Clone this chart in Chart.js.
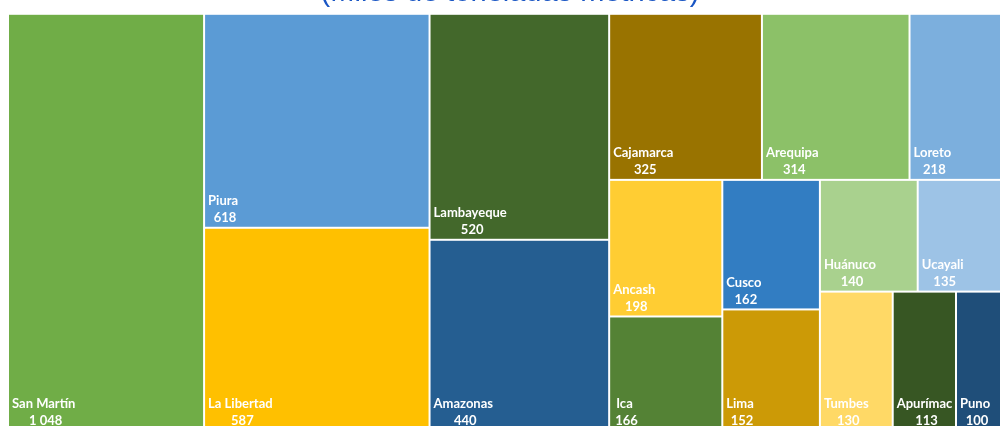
<!DOCTYPE html>
<html>
<head>
<meta charset="utf-8">
<script src="https://cdn.jsdelivr.net/npm/chart.js@4.4.1/dist/chart.umd.min.js"></script>
<style>
  html, body { margin: 0; padding: 0; background: #fff; overflow: hidden; width: 1000px; height: 426px; }
  #wrap { position: absolute; left: 0; top: -24px; width: 1020px; height: 455px; }
</style>
</head>
<body>
<div id="wrap"><canvas id="myChart"></canvas></div>
<script>
// data
const regiones = ['San Martín', 'Piura', 'La Libertad', 'Lambayeque', 'Amazonas', 'Cajamarca', 'Arequipa', 'Loreto',
    'Ancash', 'Ica', 'Cusco', 'Lima', 'Huánuco', 'Ucayali', 'Tumbes', 'Apurímac', 'Puno'];
const produccion = [1048, 618, 587, 520, 440, 325, 314, 218, 198, 166, 162, 152, 140, 135, 130, 113, 100];
const colores = ['#70AD47', '#5B9BD5', '#FFC000', '#43682B', '#255E91', '#997300', '#8CC168', '#7CAFDD',
    '#FFCD33', '#548235', '#327DC2', '#CC9A06', '#A9D18E', '#9DC3E6', '#FFD966', '#375623', '#1F4E79'];

// how the blocks are sliced (indices into the arrays above)
const bloques = { dir: 'h', kids: [
    0,
    { dir: 'v', kids: [1, 2] },
    { dir: 'v', kids: [3, 4] },
    { dir: 'v', kids: [
        { dir: 'h', kids: [5, 6, 7] },
        { dir: 'h', kids: [
            { dir: 'v', kids: [8, 9] },
            { dir: 'v', kids: [10, 11] },
            { dir: 'v', kids: [
                { dir: 'h', kids: [12, 13] },
                { dir: 'h', kids: [14, 15, 16] }
            ] }
        ] }
    ] }
] };

function total(node) {
    if (typeof node === 'number') return produccion[node];
    return node.kids.reduce((a, k) => a + total(k), 0);
}

// slice and dice in unit square
function layout(node, x0, y0, x1, y1, out) {
    if (typeof node === 'number') {
        out.push({ i: node, x0: x0, y0: y0, x1: x1, y1: y1 });
        return out;
    }
    const sum = total(node);
    let pos = node.dir === 'h' ? x0 : y0;
    node.kids.forEach(k => {
        const f = total(k) / sum;
        if (node.dir === 'h') {
            const w = (x1 - x0) * f;
            layout(k, pos, y0, pos + w, y1, out);
            pos += w;
        } else {
            const h = (y1 - y0) * f;
            layout(k, x0, pos, x1, pos + h, out);
            pos += h;
        }
    });
    return out;
}

const celdas = layout(bloques, 0, 0, 1, 1, []);

function fmt(v) {
    return v.toString().replace(/\B(?=(\d{3})+(?!\d))/g, ' ');
}

const treemapPlugin = {
    id: 'treemap',
    afterDatasetsDraw(chart) {
        const ctx = chart.ctx;
        const xs = chart.scales.x, ys = chart.scales.y;
        ctx.save();
        celdas.forEach(c => {
            const l = xs.getPixelForValue(c.x0), r = xs.getPixelForValue(c.x1);
            const t = ys.getPixelForValue(c.y0), b = ys.getPixelForValue(c.y1);
            ctx.fillStyle = colores[c.i];
            ctx.fillRect(l + 1, t + 1, r - l - 2, b - t - 2);

            // label block: name over value, centred on each other
            ctx.font = 'bold 13px Lato, "Liberation Sans", sans-serif';
            ctx.fillStyle = '#ffffff';
            ctx.textBaseline = 'middle';
            const name = regiones[c.i];
            const val = fmt(produccion[c.i]);
            const bw = Math.max(ctx.measureText(name).width, ctx.measureText(val).width);
            const cx = l + 4 + bw / 2;
            ctx.textAlign = 'center';
            ctx.fillText(name, cx, b - 27);
            ctx.fillText(val, cx + 2, b - 10);
        });
        ctx.restore();
    }
};

const ctx = document.getElementById('myChart');
const myChart = new Chart(ctx, {
    type: 'scatter',
    data: { datasets: [{ data: [] }] },
    options: {
        responsive: true,
        maintainAspectRatio: false,
        animation: false,
        layout: { padding: { left: 8, right: 8, top: 0, bottom: 0 } },
        scales: {
            x: { display: false, min: 0, max: 1 },
            y: { display: false, min: 0, max: 1, reverse: true }
        },
        plugins: {
            legend: { display: false },
            tooltip: { enabled: false },
            title: {
                display: true,
                text: '(Miles de toneladas métricas)',
                color: '#1A56C4',
                font: { size: 29, family: '"Liberation Sans", Arial, sans-serif', weight: 'normal' },
                padding: { top: 0, bottom: 3 }
            }
        }
    },
    plugins: [treemapPlugin]
});
</script>
</body>
</html>
